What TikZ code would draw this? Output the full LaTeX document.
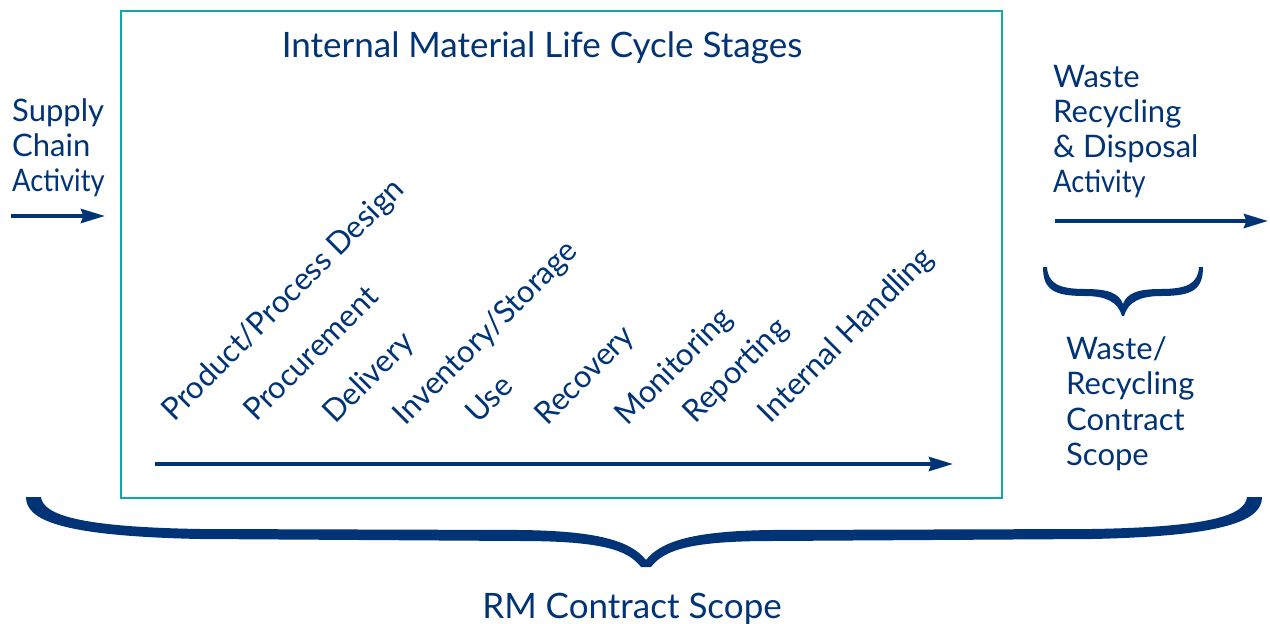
\documentclass[tikz,border=0pt]{standalone}
\usepackage{fontspec}
\setmainfont{Lato}
\usetikzlibrary{arrows.meta}
\definecolor{navy}{RGB}{0,52,118}
\definecolor{tealline}{RGB}{18,168,168}
\newcommand{\narrowword}[1]{\scalebox{0.88}[1]{#1}}
\begin{document}
\begin{tikzpicture}[x=1pt,y=-1pt,
  lbl/.style={text=navy, font=\fontsize{31}{35}\selectfont, inner sep=0pt, anchor=base west},
  stage/.style={lbl, rotate=45},
  big/.style={text=navy, font=\fontsize{35}{40}\selectfont, inner sep=0pt, anchor=base},
  flow/.style={draw=navy, line width=4pt, -{Stealth[length=24pt,width=14pt,inset=2.5pt]}},
  bracefill/.style={fill=navy, draw=none}]
\useasboundingbox (0,0) rectangle (1270,624);
\fill[white] (0,0) rectangle (1270,624);

% frame of the internal stages
\node (lifecycle) [draw=tealline, line width=2pt, inner sep=0pt, anchor=north west,
  minimum width=881pt, minimum height=487pt] at (120,10) {};
\node[big] (title) at (542,57) {Internal Material Life Cycle Stages};

% upstream activity
\node[lbl] (sc1) at (12,121) {Supply};
\node[lbl] (sc2) at (12,156) {Chain};
\node[lbl] (sc3) at (12,191) {\narrowword{Activity}};
\coordinate (inA) at (11,216);
\coordinate (inB) at (105,216);
\draw[flow] (inA) -- (inB);

% downstream activity
\node[lbl] (wr1) at (1053,87) {Waste};
\node[lbl] (wr2) at (1053,122) {Recycling};
\node[lbl] (wr3) at (1053,157) {\& Disposal};
\node[lbl] (wr4) at (1053,192) {\narrowword{Activity}};
\coordinate (outA) at (1055,221);
\coordinate (outB) at (1268,221);
\draw[flow] (outA) -- (outB);

% stages along the timeline
\node[stage] (s1) at (174,423) {Product/Process Design};
\node[stage] (s2) at (256,423) {Procurement};
\node[stage] (s3) at (335,425) {Delivery};
\node[stage] (s4) at (405,427) {Inventory/Storage};
\node[stage] (s5) at (478,425) {Use};
\node[stage] (s6) at (547,427) {Recovery};
\node[stage] (s7) at (627,427) {Monitoring};
\node[stage] (s8) at (695,425) {Reporting};
\node[stage] (s9) at (770,425) {Internal Handling};
\coordinate (tlA) at (155,464);
\coordinate (tlB) at (953,464);
\draw[flow] (tlA) -- (tlB);

% waste contract brace and label
\fill[bracefill] (1043,267) -- (1047,267)
  .. controls (1048,283) and (1058,289) .. (1085,289)
  .. controls (1108,289) and (1119,293) .. (1123,304)
  .. controls (1127,293) and (1138,289) .. (1161,289)
  .. controls (1188,289) and (1198,283) .. (1199,267)
  -- (1203,267)
  .. controls (1203,290) and (1192,296) .. (1161,296)
  .. controls (1140,296) and (1128,302) .. (1124,316)
  -- (1122,316)
  .. controls (1118,302) and (1106,296) .. (1085,296)
  .. controls (1054,296) and (1043,290) .. (1043,267) -- cycle;
\node[lbl] (wc1) at (1066,359) {Waste/};
\node[lbl] (wc2) at (1066,394) {Recycling};
\node[lbl] (wc3) at (1066,430) {Contract};
\node[lbl] (wc4) at (1066,465) {Scope};

% overall contract brace and label
\fill[bracefill] (26,497) -- (41,497)
  .. controls (43,515) and (80,527) .. (200,529)
  -- (520,530)
  .. controls (605,531) and (632,543) .. (646,560)
  .. controls (660,543) and (687,531) .. (772,530)
  -- (1092,529)
  .. controls (1212,527) and (1245,515) .. (1247,497)
  -- (1262,497)
  .. controls (1262,520) and (1228,536) .. (1092,539)
  -- (772,541)
  .. controls (690,541) and (664,550) .. (651,567)
  -- (641,567)
  .. controls (628,550) and (602,541) .. (520,541)
  -- (200,539)
  .. controls (60,536) and (26,520) .. (26,497) -- cycle;
\node[big] (rm) at (632,618) {RM Contract Scope};
\end{tikzpicture}
\end{document}
